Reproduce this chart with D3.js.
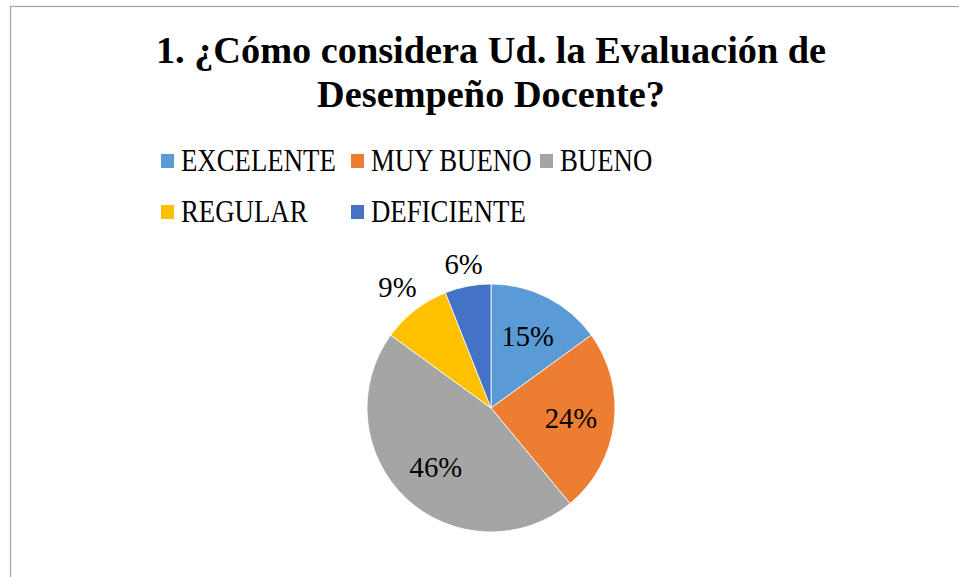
<!DOCTYPE html>
<html>
<head>
<meta charset="utf-8">
<script src="https://cdn.jsdelivr.net/npm/d3@7"></script>
<style>
  body { margin: 0; background: #fff; }
  svg { display: block; }
  text { font-family: "Liberation Serif", "Times New Roman", serif; fill: #000; }
</style>
</head>
<body>
<div id="chart"></div>
<script>
const categories = ['EXCELENTE', 'MUY BUENO', 'BUENO', 'REGULAR', 'DEFICIENTE']
const values = [15, 24, 46, 9, 6]
const colors = ['#5B9BD5', '#ED7D31', '#A5A5A5', '#FFC000', '#4472C4']
const titleLines = ['1. ¿Cómo considera Ud. la Evaluación de', 'Desempeño Docente?']

const width = 959
const height = 577

const svg = d3.select('#chart').append('svg')
  .attr('width', width)
  .attr('height', height)

// chart area border (only top and left edges fall inside the picture)
svg.append('rect')
  .attr('x', 10.5)
  .attr('y', 6.5)
  .attr('width', 1000)
  .attr('height', 1000)
  .attr('fill', 'none')
  .attr('stroke', '#a6a6a6')
  .attr('stroke-width', 1.2)

// Title
svg.append('g')
  .selectAll('text')
  .data(titleLines)
  .enter()
  .append('text')
    .attr('x', 491)
    .attr('y', (d, i) => 63 + i * 44)
    .attr('text-anchor', 'middle')
    .attr('font-weight', 'bold')
    .attr('font-size', 38.3)
    .text(d => d)

// Legend: 3 items on first row, 2 on second
const legendCols = [161, 351, 540]
const legend = svg.append('g')
  .selectAll('g')
  .data(categories)
  .enter()
  .append('g')
    .attr('transform', (d, i) => {
      const col = i < 3 ? i : i - 3
      const row = i < 3 ? 0 : 1
      return 'translate(' + legendCols[col] + ',' + (171 + row * 51) + ')'
    })

legend.append('rect')
  .attr('x', 0)
  .attr('y', -17)
  .attr('width', 13)
  .attr('height', 14)
  .attr('fill', (d, i) => colors[i])

legend.append('text')
  .attr('transform', 'translate(20,0) scale(1,1.2)')
  .attr('font-size', 26.8)
  .text(d => d)

// Pie
const cx = 491
const cy = 408
const radius = 124

const pie = d3.pie().sort(null).value(d => d)
const arcs = pie(values)
const arc = d3.arc().innerRadius(0).outerRadius(radius)

const pieG = svg.append('g')
  .attr('transform', 'translate(' + cx + ',' + cy + ')')

pieG.selectAll('path')
  .data(arcs)
  .enter()
  .append('path')
    .attr('d', arc)
    .attr('fill', (d, i) => colors[i])
    .attr('stroke', '#fff')
    .attr('stroke-width', 0.8)

// Labels: big slices inside, small slices outside (best fit)
const total = d3.sum(values)
const labels = pieG.selectAll('text.label')
  .data(arcs)
  .enter()
  .append('text')
    .attr('class', 'label')
    .attr('text-anchor', 'middle')
    .attr('font-size', 28.7)
    .text(d => Math.round(d.value / total * 100) + '%')

labels.attr('transform', function (d) {
  const a = (d.startAngle + d.endAngle) / 2
  const share = d.value / total
  let r
  if (share < 0.1) {
    const halfW = this.getComputedTextLength() / 2
    const halfH = 10
    r = radius + 9 + Math.abs(Math.sin(a)) * halfW + Math.abs(Math.cos(a)) * halfH
  } else {
    r = radius * 0.65
  }
  const x = Math.sin(a) * r
  const y = -Math.cos(a) * r
  return 'translate(' + x + ',' + (y + 10) + ') scale(1,1.06)'
})
</script>
</body>
</html>
